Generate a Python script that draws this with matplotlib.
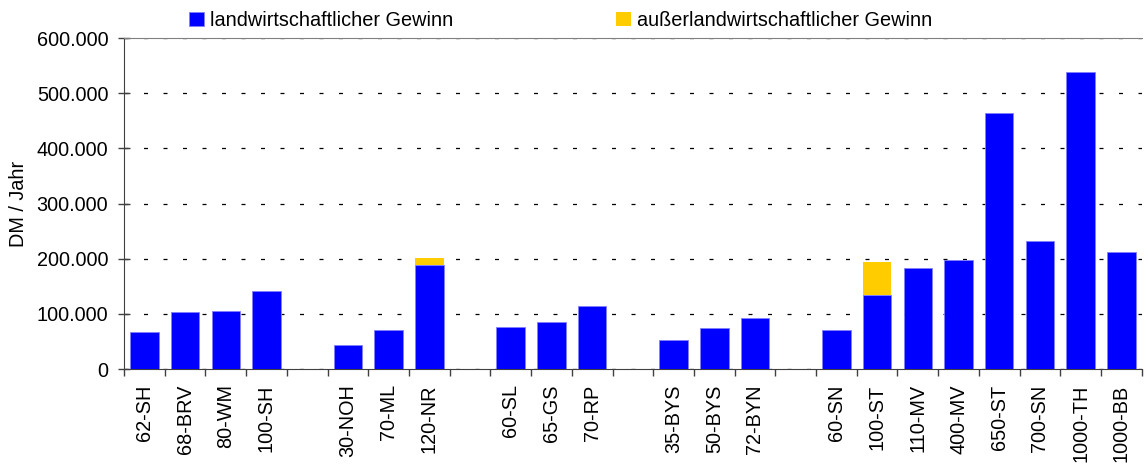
import matplotlib.pyplot as plt
from matplotlib.ticker import FuncFormatter

plt.rcParams['font.family'] = ['Liberation Sans', 'DejaVu Sans']

# Betriebe, in Gruppen (zwischen den Gruppen bleibt ein leerer Platz)
gruppen = [
    ['62-SH', '68-BRV', '80-WM', '100-SH'],
    ['30-NOH', '70-ML', '120-NR'],
    ['60-SL', '65-GS', '70-RP'],
    ['35-BYS', '50-BYS', '72-BYN'],
    ['60-SN', '100-ST', '110-MV', '400-MV', '650-ST', '700-SN', '1000-TH', '1000-BB'],
]
# landwirtschaftlicher Gewinn (DM / Jahr)
landw = [
    [68000, 103000, 105000, 141000],
    [43000, 70000, 189000],
    [76000, 85000, 114000],
    [52000, 74000, 93000],
    [71000, 134000, 183000, 197000, 464000, 232000, 538000, 212000],
]
# außerlandwirtschaftlicher Gewinn (DM / Jahr)
ausserlandw = [
    [0, 0, 0, 0],
    [0, 0, 12000],
    [0, 0, 0],
    [0, 0, 0],
    [0, 60000, 0, 0, 0, 0, 0, 0],
]

# Positionen mit Lücke zwischen den Gruppen
namen, werte1, werte2, pos = [], [], [], []
x = 0
for g, a, b in zip(gruppen, landw, ausserlandw):
    for n, v1, v2 in zip(g, a, b):
        namen.append(n)
        werte1.append(v1)
        werte2.append(v2)
        pos.append(x)
        x += 1
    x += 1
n_slots = x - 1

fs = 14.3

fig = plt.figure(figsize=(11.44, 4.66), dpi=100)
ax = fig.add_axes([0.1084, 0.208, 0.8896, 0.710])

b1 = ax.bar(pos, werte1, width=0.7, color='#0000FF', edgecolor='#8080FF', linewidth=0.6,
            label='landwirtschaftlicher Gewinn', zorder=3)
b2 = ax.bar(pos, werte2, width=0.7, bottom=werte1, color='#FFCC00', edgecolor='none',
            label='außerlandwirtschaftlicher Gewinn', zorder=3)

ax.set_xlim(-0.5, n_slots - 0.5)
ax.set_ylim(0, 600000)
ax.set_yticks(range(0, 600001, 100000))
ax.yaxis.set_major_formatter(FuncFormatter(lambda v, p: '0' if v == 0 else f'{int(v):,}'.replace(',', '.')))

# Striche an den Grenzen, Beschriftung in der Mitte
ax.set_xticks([k - 0.5 for k in range(n_slots + 1)])
ax.set_xticklabels([])
ax.set_xticks(pos, minor=True)
ax.set_xticklabels(namen, minor=True, rotation=90, fontsize=fs)
ax.tick_params(axis='x', which='minor', length=0, pad=11)
ax.tick_params(axis='x', which='major', length=5, width=1, color='#404040')
ax.tick_params(axis='y', labelsize=fs, direction='inout', length=8.6, width=1, color='#404040', pad=7)

# gestrichelte Hilfslinien
ax.grid(axis='y', linestyle=(0, (3.2, 12.4)), color='black', linewidth=0.9, zorder=0)
ax.spines['right'].set_visible(False)
ax.spines['top'].set_color('#808080')
ax.spines['left'].set_color('#404040')
ax.spines['bottom'].set_color('#404040')

ax.set_ylabel('DM / Jahr', fontsize=fs, labelpad=6.5)

fig.legend(handles=[b1, b2], loc='upper center', bbox_to_anchor=(0.49, 1.014), ncol=2,
           frameon=False, fontsize=fs, handlelength=0.75, handleheight=0.7,
           handletextpad=0.3, columnspacing=8.2)

fig.savefig('out.png', dpi=100)
